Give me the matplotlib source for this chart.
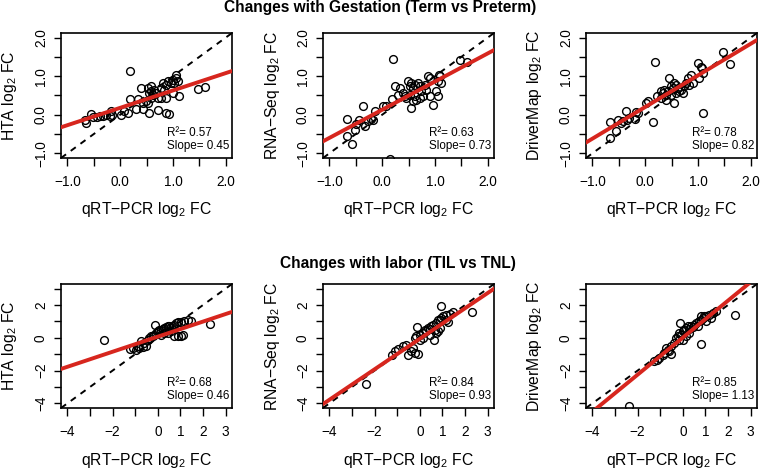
import numpy as np
import matplotlib.pyplot as plt

plt.rcParams['font.family'] = ['Liberation Sans', 'DejaVu Sans']
plt.rcParams['mathtext.fontset'] = 'custom'
plt.rcParams['mathtext.rm'] = 'Liberation Sans'
plt.rcParams['mathtext.it'] = 'Liberation Sans:italic'

# GESTATION (TERM VS PRETERM) - qRT-PCR log2 FC vs platform log2 FC
gest_hta_x = [-0.66, -0.65, -0.55, -0.52, -0.43, -0.38, -0.33, -0.27, -0.20, -0.17, -0.16,
              0.02, 0.08, 0.14, 0.19, 0.18, 0.33, 0.30, 0.43, 0.40, 0.52, 0.55, 0.59, 0.62,
              0.59, 0.55, 0.65, 0.68, 0.71, 0.49, 0.52, 0.43, 0.71, 0.78, 0.78, 0.81, 0.87,
              0.90, 0.96, 1.00, 1.06, 1.06, 1.03, 1.09, 1.00, 1.12, 0.87, 0.87, 0.93, 0.84,
              0.59, 1.47, 1.60]
gest_hta_y = [-0.14, -0.20, 0.02, -0.06, -0.06, -0.04, -0.02, 0.00, -0.02, 0.11, 0.00,
              0.00, 0.09, 0.05, 1.14, 0.41, 0.41, 0.15, 0.15, 0.69, 0.69, 0.05, 0.61, 0.52,
              0.44, 0.57, 0.65, 0.57, 0.44, 0.35, 0.31, 0.31, 0.13, 0.44, 0.69, 0.82, 0.78,
              0.87, 0.82, 0.91, 1.04, 0.95, 0.82, 0.87, 0.57, 0.48, 0.44, 0.05, 0.02, 0.65,
              0.74, 0.68, 0.72]

gest_rna_x = [-0.66, -0.66, -0.57, -0.52, -0.49, -0.43, -0.36, -0.33, -0.27, -0.22, -0.17,
              -0.14, 0.02, 0.08, 0.18, 0.21, 0.14, 0.24, 0.33, 0.30, 0.40, 0.43, 0.49, 0.52,
              0.55, 0.59, 0.62, 0.68, 0.71, 0.62, 0.65, 0.59, 0.55, 0.71, 0.78, 0.74, 0.81,
              0.87, 0.90, 0.84, 0.90, 0.96, 1.03, 1.06, 1.08, 1.09, 1.12, 1.06, 1.47, 1.60,
              0.46, 0.52]
gest_rna_y = [-0.11, -0.54, -0.77, -0.39, -0.23, -0.14, 0.24, -0.30, -0.17, -0.11, -0.14,
              0.09, 0.22, 0.24, 0.41, 1.45, -1.14, 0.74, 0.69, 0.52, 0.57, 0.48, 0.87, 0.74,
              0.82, 0.69, 0.78, 0.82, 0.74, 0.48, 0.39, 0.35, 0.18, 0.44, 0.48, 0.61, 0.78,
              1.00, 0.95, 0.65, 0.48, 0.26, 0.61, 0.48, 1.04, 1.00, 0.82, 0.87, 1.42, 1.36,
              0.44, 0.52]

gest_dm_x = [-0.66, -0.66, -0.55, -0.52, -0.46, -0.41, -0.36, -0.35, -0.30, -0.20, -0.17,
             -0.14, 0.02, 0.05, 0.14, 0.19, 0.22, 0.30, 0.36, 0.40, 0.46, 0.49, 0.52, 0.55,
             0.59, 0.62, 0.55, 0.59, 0.65, 0.68, 0.71, 0.74, 0.78, 0.81, 0.87, 0.90, 1.00,
             1.06, 1.08, 1.09, 1.03, 1.10, 1.47, 1.60, 0.43, 0.49, 0.33, 0.84, 0.30, 0.40]
gest_dm_y = [-0.19, -0.60, -0.43, -0.14, -0.20, -0.17, 0.09, -0.14, -0.08, -0.11, 0.07,
             0.05, 0.31, 0.35, -0.19, 1.38, 0.48, 0.61, 0.65, 0.52, 0.95, 0.74, 0.69, 0.82,
             0.78, 0.69, 0.31, 0.57, 0.61, 0.65, 0.57, 0.74, 0.82, 0.95, 1.04, 0.82, 1.34,
             1.25, 1.21, 1.08, 0.95, 0.05, 1.62, 1.32, 0.61, 0.52, 0.57, 0.78, 0.44, 0.39]

# LABOR (TIL VS TNL)
labor_hta_x = [-2.36, -0.12, 2.32, -1.22, -1.11, -0.96, -0.82, -0.67, -0.74, -0.60, -0.45,
               -0.38, -0.30, -0.23, -0.15, -0.08, -0.01, 0.07, 0.14, 0.22, 0.29, 0.36, 0.44,
               0.51, 0.58, 0.66, 0.73, 0.80, 0.88, 1.03, 1.17, 1.32, 1.47, 0.73, 0.88, 1.03,
               1.10, 0.14, 0.29, 0.44, 0.58, -0.52, -0.89]
labor_hta_y = [-0.11, 0.80, 0.86, -0.68, -0.62, -0.72, -0.62, -0.56, -0.22, -0.32, -0.11,
               -0.01, 0.09, 0.13, 0.19, 0.29, 0.39, 0.50, 0.50, 0.54, 0.60, 0.64, 0.70,
               0.74, 0.66, 0.70, 0.80, 0.90, 0.94, 0.94, 1.00, 1.07, 1.00, 0.13, 0.09, 0.13,
               0.19, 0.19, 0.29, 0.29, 0.39, -0.48, -0.52]

labor_rna_x = [-2.36, 0.95, 2.32, -0.12, -1.22, -1.11, -0.96, -0.74, -0.60, -0.52, -0.38,
               -0.23, -0.08, -0.30, -0.23, -0.15, -0.01, 0.14, 0.22, 0.29, 0.36, 0.44, 0.51,
               0.58, 0.66, 0.73, 0.80, 0.88, 0.95, 1.03, 1.17, 1.32, 1.47, 1.17, 1.25, 0.61,
               0.73, 0.80, 0.88, 0.44, 0.14, -0.01]
labor_rna_y = [-2.80, 1.92, 1.55, 0.66, -1.03, -0.83, -0.68, -0.48, -0.42, -1.03, -0.83,
               -0.93, -0.99, -0.62, -0.01, 0.09, 0.19, 0.29, 0.50, 0.39, 0.60, 0.54, 0.70,
               0.80, 0.50, 0.90, 1.07, 1.11, 1.21, 1.31, 1.41, 1.47, 1.55, 1.11, 0.94, -0.11,
               0.29, 0.39, 0.60, 0.19, -0.01, -0.11]

labor_dm_x = [-2.36, 2.32, -0.11, 0.80, -1.26, -1.16, -1.04, -0.89, -0.82, -0.67, -0.60,
              -0.52, -0.74, -0.52, -0.38, -0.30, -0.23, -0.15, -0.08, -0.01, 0.07, 0.14,
              0.22, 0.29, 0.36, 0.44, 0.51, 0.58, 0.66, 0.73, 0.80, 0.88, 0.95, 1.03, 1.17,
              1.32, 1.47, 0.80, 1.03, 1.25, -0.01, 0.14, 0.29, -0.15]
labor_dm_y = [-4.18, 1.41, 0.90, -0.38, -1.44, -1.33, -1.23, -1.03, -0.93, -0.72, -0.83,
              -0.99, -0.62, -0.52, -0.32, -0.01, 0.09, 0.29, 0.19, 0.39, 0.50, 0.60,
              0.70, 0.54, 0.74, 0.66, 0.80, 0.90, 0.74, 1.00, 1.11, 1.21, 1.31, 1.35, 1.41,
              1.51, 1.61, 1.35, 1.00, 1.21, -0.11, 0.09, 0.29, -0.11]

platforms = ['HTA', 'RNA\u2212Seq', 'DriverMap']

gest_r2 = [0.57, 0.63, 0.78]
gest_slope = [0.45, 0.73, 0.82]
gest_icept = [0.18, 0.13, 0.20]
labor_r2 = [0.68, 0.84, 0.85]
labor_slope = [0.46, 0.93, 1.13]
labor_icept = [0.07, -0.06, 0.01]

gest_ticks = [-1.0, -0.5, 0.0, 0.5, 1.0, 1.5, 2.0]
gest_labels = ['\u22121.0', '', '0.0', '', '1.0', '', '2.0']
labor_ticks = [-4, -3, -2, -1, 0, 1, 2, 3]
labor_xlabels = ['\u22124', '', '\u22122', '', '0', '1', '2', '3']
labor_ylabels = ['\u22124', '', '\u22122', '', '0', '', '2', '']

rows = [
    dict(title='Changes with Gestation (Term vs Preterm)',
         data=[(gest_hta_x, gest_hta_y), (gest_rna_x, gest_rna_y), (gest_dm_x, gest_dm_y)],
         r2=gest_r2, slope=gest_slope, icept=gest_icept, lim=(-1.12, 2.12),
         ticks=gest_ticks, xl=gest_labels, yl=gest_labels),
    dict(title='Changes with labor (TIL vs TNL)',
         data=[(labor_hta_x, labor_hta_y), (labor_rna_x, labor_rna_y), (labor_dm_x, labor_dm_y)],
         r2=labor_r2, slope=labor_slope, icept=labor_icept, lim=(-4.28, 3.28),
         ticks=labor_ticks, xl=labor_xlabels, yl=labor_ylabels),
]

W, H = 760, 471
fig = plt.figure(figsize=(W / 100, H / 100), dpi=100)

lefts = [61, 323, 586]
tops = [33, 284]
bottoms = [158, 408]
title_x = [380, 398]
title_base = [12, 268]
red = '#d7261e'

for r, row in enumerate(rows):
    fig.text(title_x[r] / W, 1 - title_base[r] / H, row['title'], ha='center',
             va='baseline', fontsize=11.2, fontweight='bold')
    h = bottoms[r] - tops[r]
    for c in range(3):
        ax = fig.add_axes([lefts[c] / W, 1 - bottoms[r] / H, 171 / W, h / H])
        x, y = row['data'][c]
        ax.plot(x, y, 'o', mfc='none', mec='black', ms=5.6, mew=1.0, zorder=2)
        ax.axline((0, 0), slope=1, color='black', ls=(0, (3.2, 3)), lw=1.4, zorder=3)
        ax.axline((0, row['icept'][c]), slope=row['slope'][c], color=red, lw=2.8, zorder=4)
        ax.set_xlim(row['lim'])
        ax.set_ylim(row['lim'])
        ax.set_xticks(row['ticks'])
        ax.set_xticklabels(row['xl'])
        ax.set_yticks(row['ticks'])
        ax.set_yticklabels(row['yl'])
        ax.tick_params(axis='both', direction='out', length=5.4, width=1.0, labelsize=9.8)
        ax.tick_params(axis='x', pad=6.5)
        ax.tick_params(axis='y', pad=4.0, labelrotation=90)
        for lab in ax.get_yticklabels():
            lab.set_va('center')
        for s in ax.spines.values():
            s.set_linewidth(1.2)

        ax.set_xlabel('qRT\u2212PCR log$_2$ FC', fontsize=11.3)
        ax.xaxis.label.set_va('baseline')
        ax.xaxis.set_label_coords(0.5, -56.5 / h)
        ax.set_ylabel(platforms[c] + ' log$_2$ FC', fontsize=11.3)
        ax.yaxis.label.set_va('baseline')
        ax.yaxis.set_label_coords(-46.5 / 171, 0.5)

        ax.text(0.62, 0.175, 'R\u00b2= %.2f' % row['r2'][c], transform=ax.transAxes,
                fontsize=8.4, va='baseline')
        ax.text(0.62, 0.07, 'Slope= %.2f' % row['slope'][c], transform=ax.transAxes,
                fontsize=8.4, va='baseline')

fig.savefig('out.png', dpi=100)
